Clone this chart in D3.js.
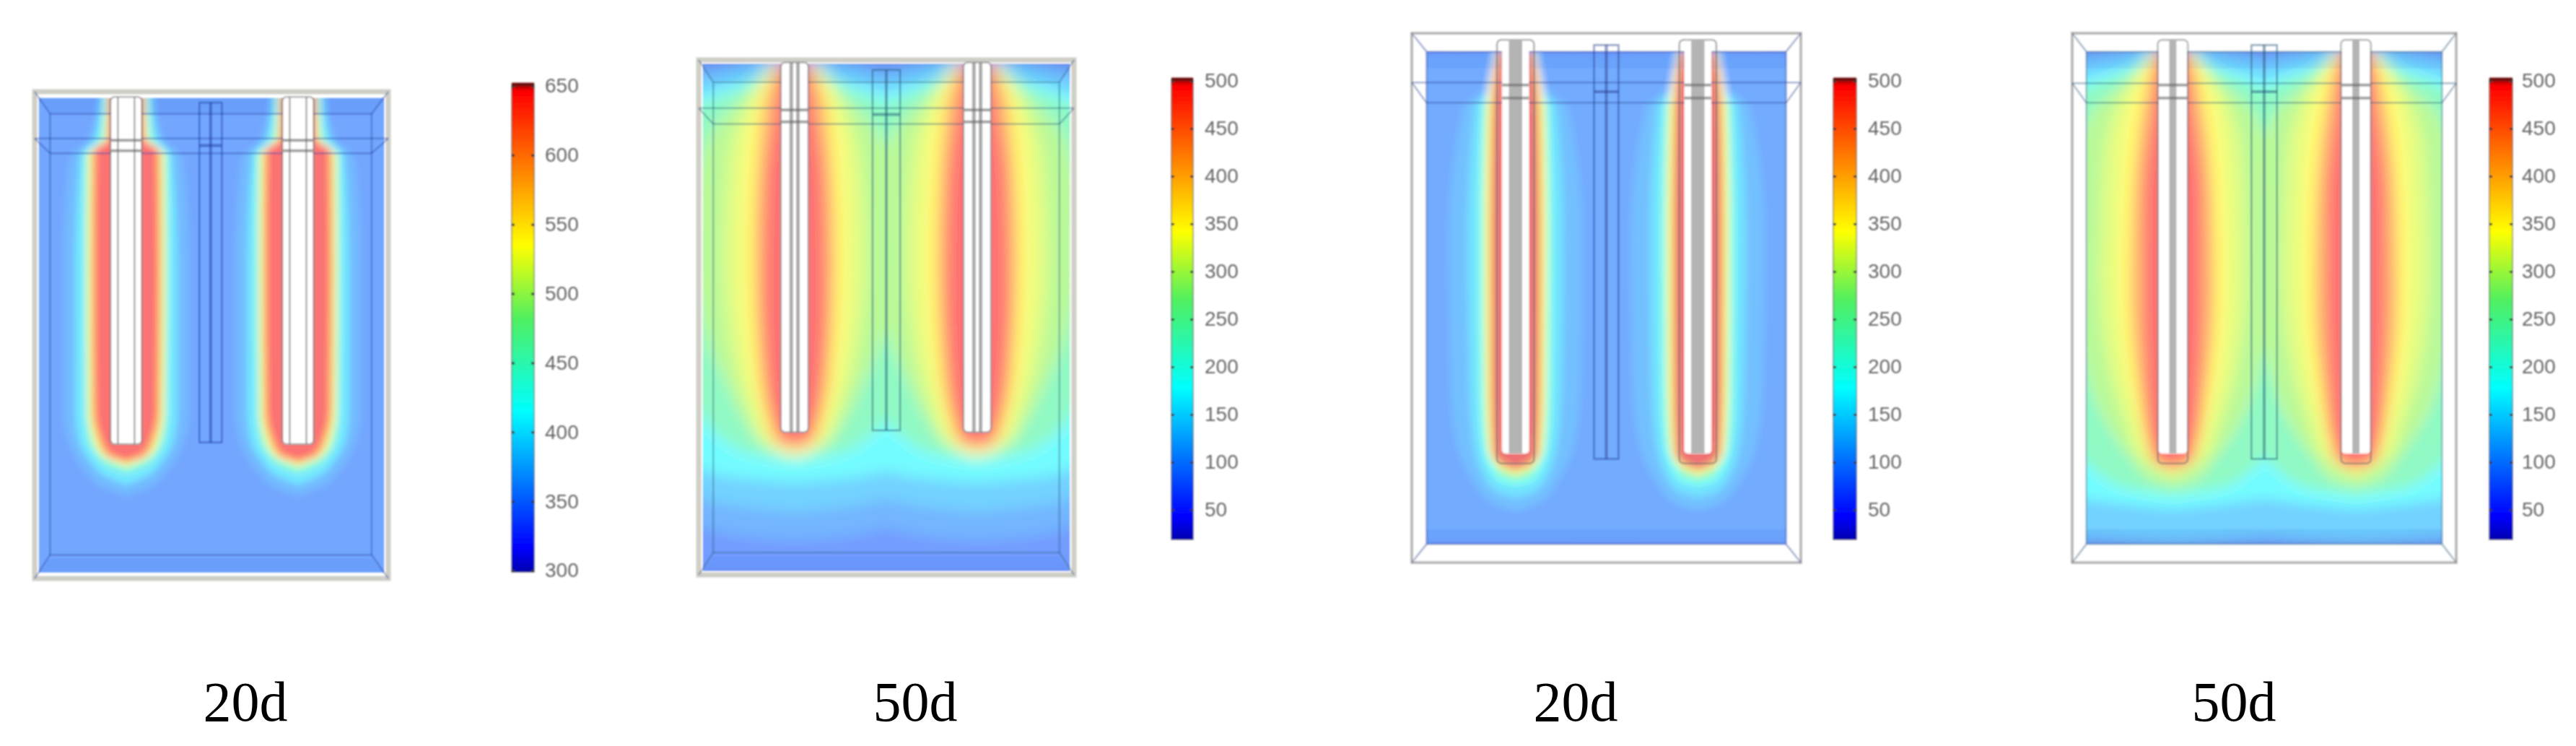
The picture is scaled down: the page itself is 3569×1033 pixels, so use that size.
<!DOCTYPE html>
<html>
<head>
<meta charset="utf-8">
<script src="https://cdn.jsdelivr.net/npm/d3@7"></script>
<style>
  html, body { margin: 0; background: #fff; }
  svg { display: block; }
  .caption { font-family: "Liberation Serif", serif; font-size: 78px; fill: #000; text-anchor: middle; }
  .bar-axis text { font-family: "Liberation Sans", sans-serif; font-size: 28px; fill: #666; }
</style>
</head>
<body>
<svg id="chart" width="3569" height="1033"></svg>
<script>
const captions = ['20d', '50d', '20d', '50d'];
const ticksA = [300, 350, 400, 450, 500, 550, 600, 650];
const ticksB = [50, 100, 150, 200, 250, 300, 350, 400, 450, 500];

// rainbow colormap, stops
const barStops = [0, 0.05, 0.33, 0.52, 0.67, 0.985, 1];
const barColors = ['#0000b0', '#0000ff', '#00ffff', '#50f060', '#ffff00', '#ff0000', '#a00000'];

// temperature isotherms: t, then [depth, half width from the heater axis]
const isotherms1 = [
  { t: 368, pts: [[100, 65], [230, 90], [290, 135], [600, 150], [1000, 150], [1100, 135], [1180, 95], [1225, 50], [1245, 0]] },
  { t: 400, pts: [[100, 60], [230, 75], [280, 110], [600, 122], [1000, 122], [1080, 115], [1150, 85], [1190, 50], [1215, 0]] },
  { t: 450, pts: [[100, 52], [230, 65], [280, 100], [600, 102], [1000, 100], [1080, 94], [1130, 74], [1165, 42], [1182, 0]] },
  { t: 520, pts: [[100, 47], [230, 52], [280, 92], [600, 94], [1000, 92], [1080, 82], [1130, 60], [1165, 0]] },
  { t: 590, pts: [[100, 44], [230, 47], [270, 84], [600, 86], [1000, 84], [1080, 72], [1135, 48], [1155, 0]] },
  { t: 645, pts: [[100, 42], [230, 44], [260, 76], [600, 78], [1000, 76], [1075, 64], [1130, 38], [1148, 0]] }
];
const isotherms2 = [
  { t: 85, pts: [[65, 50], [84, 300], [1455, 300]] },
  { t: 108, pts: [[70, 60], [125, 300], [1290, 300], [1320, 230], [1350, 120], [1360, 0]] },
  { t: 135, pts: [[72, 70], [160, 300], [1190, 300], [1240, 235], [1270, 130], [1285, 0]] },
  { t: 175, pts: [[75, 60], [110, 100], [200, 300], [1100, 300], [1160, 240], [1190, 150], [1205, 0]] },
  { t: 240, pts: [[75, 55], [120, 100], [240, 300], [900, 300], [1000, 240], [1080, 180], [1130, 100], [1150, 0]] },
  { t: 290, pts: [[75, 52], [140, 100], [260, 200], [400, 235], [600, 240], [800, 215], [950, 160], [1050, 115], [1110, 70], [1125, 0]] },
  { t: 320, pts: [[75, 50], [130, 85], [220, 130], [350, 160], [600, 170], [850, 150], [1000, 112], [1090, 72], [1135, 0]] },
  { t: 345, pts: [[75, 48], [120, 70], [200, 98], [300, 120], [600, 132], [850, 118], [1000, 90], [1085, 64], [1120, 36], [1130, 0]] },
  { t: 410, pts: [[75, 43], [130, 62], [200, 80], [600, 100], [900, 88], [1040, 64], [1100, 42], [1118, 0]] },
  { t: 492, pts: [[75, 40], [200, 56], [400, 78], [700, 84], [950, 72], [1060, 58], [1100, 36], [1112, 0]] }
];
const isotherms3 = [
  { t: 98, pts: [[100, 60], [108, 330], [1430, 330]] },
  { t: 118, pts: [[100, 65], [200, 85], [250, 140], [600, 180], [1000, 175], [1150, 160], [1250, 120], [1320, 60], [1340, 0]] },
  { t: 150, pts: [[100, 62], [200, 75], [250, 110], [600, 130], [1000, 125], [1150, 115], [1240, 90], [1290, 50], [1305, 0]] },
  { t: 190, pts: [[100, 58], [200, 65], [250, 92], [600, 104], [1000, 102], [1150, 94], [1230, 72], [1265, 40], [1275, 0]] },
  { t: 260, pts: [[100, 55], [200, 60], [250, 84], [600, 90], [1000, 88], [1150, 82], [1220, 58], [1248, 35], [1258, 0]] },
  { t: 340, pts: [[100, 52], [250, 76], [600, 82], [1000, 80], [1170, 72], [1218, 50], [1242, 0]] },
  { t: 420, pts: [[100, 50], [250, 67], [600, 72], [1000, 71], [1180, 65], [1222, 34], [1234, 0]] },
  { t: 495, pts: [[100, 48], [250, 61], [600, 66], [1000, 65], [1190, 58], [1218, 26], [1228, 0]] }
];
const isotherms4 = [
  { t: 85, pts: [[95, 60], [106, 320], [1430, 320]] },
  { t: 105, pts: [[97, 60], [130, 320], [1425, 320]] },
  { t: 135, pts: [[97, 70], [155, 320], [1380, 320], [1405, 250], [1425, 0]] },
  { t: 175, pts: [[98, 65], [130, 110], [205, 320], [1270, 320], [1300, 280], [1320, 150], [1335, 0]] },
  { t: 240, pts: [[100, 60], [140, 110], [245, 320], [950, 320], [1150, 280], [1230, 220], [1280, 130], [1300, 0]] },
  { t: 290, pts: [[100, 56], [160, 110], [270, 230], [420, 270], [700, 275], [950, 245], [1100, 190], [1200, 120], [1260, 60], [1275, 0]] },
  { t: 320, pts: [[100, 54], [150, 90], [230, 150], [400, 195], [700, 205], [950, 180], [1100, 135], [1200, 90], [1250, 0]] },
  { t: 345, pts: [[100, 52], [140, 75], [220, 114], [400, 148], [700, 158], [950, 138], [1100, 100], [1190, 68], [1242, 0]] },
  { t: 410, pts: [[100, 48], [150, 66], [240, 86], [500, 116], [750, 122], [1000, 102], [1150, 76], [1210, 56], [1232, 0]] },
  { t: 492, pts: [[100, 45], [240, 62], [500, 90], [750, 92], [1000, 82], [1170, 66], [1212, 46], [1226, 0]] }
];

// layout of each panel, in page pixels and in the units the readings above use
const layouts = [
  { iso: isotherms1, base: 354, blur: 4, ticks: ticksA, barDomain: [300, 650],
    px: [48, 538], py: [127, 801], ux: [85, 935], uy: [97, 1482], field: [95, 925, 115, 1465],
    box: [122, 895, 160, 272, 1415], iface: 230, frameW: 7, frameC: '#cfcfc8',
    axes: [305, 718], hw: 36, hwo: 38, top: 112, white: 1100, tip: 1100, stripe: 20, stripeW: 2.5, marks: [235, 265],
    rod: [508, 27, 128, 1095, 250], lineC: '#1c3c9c',
    bar: [709, 740], barY: [790, 119], barEnds: [792, 117], labelX: 755, cap: 340, tick0: 790 },
  { iso: isotherms2, base: 30, blur: 9, ticks: ticksB, barDomain: [20, 500],
    px: [968, 1488], py: [83, 796], ux: [120, 1020], uy: [65, 1455], field: [130, 1010, 75, 1445],
    box: [155, 985, 125, 238, 1395], iface: 195, frameW: 7, frameC: '#cfcfc8',
    axes: [350, 788], hw: 32, hwo: 33, top: 72, white: 1070, tip: 1070, stripe: 8, stripeW: 5, marks: [200, 232],
    rod: [570, 33, 92, 1065, 212], lineC: '#285878',
    bar: [1623, 1653], barY: [747, 112], barEnds: [747, 110], labelX: 1669, cap: 1268, tick0: 706 },
  { iso: isotherms3, base: 50, blur: 5, ticks: ticksB, barDomain: [20, 500],
    px: [1956, 2495], py: [46, 779], ux: [110, 1160], uy: [50, 1480], field: [150, 1120, 100, 1430],
    box: [150, 1120, 100, 238, 1430], iface: 183, frameW: 3.5, frameC: '#b4b4b4',
    axes: [390, 882], hw: 36, hwo: 50, top: 68, white: 1185, tip: 1212, stripe: 18, stripeW: 0, marks: [190, 225],
    rod: [635, 33, 82, 1200, 208], lineC: '#28408c',
    bar: [2540, 2572], barY: [747, 112], barEnds: [747, 110], labelX: 2588, cap: 2183, tick0: 706 },
  { iso: isotherms4, base: 30, blur: 8, ticks: ticksB, barDomain: [20, 500],
    px: [2871, 3403], py: [46, 779], ux: [145, 1225], uy: [50, 1480], field: [185, 1185, 100, 1430],
    box: [185, 1185, 100, 238, 1430], iface: 185, frameW: 3.5, frameC: '#b4b4b4',
    axes: [428, 943], hw: 40, hwo: 42, top: 68, white: 1185, tip: 1212, stripe: 10, stripeW: 0, marks: [190, 225],
    rod: [685, 36, 82, 1200, 208], lineC: '#285878',
    bar: [3449, 3481], barY: [747, 112], barEnds: [747, 110], labelX: 3494, cap: 3095, tick0: 706 }
];

const svg = d3.select('#chart');
const defs = svg.append('defs');

defs.append('filter').attr('id', 'soft')
  .attr('x', '-5%').attr('y', '-5%').attr('width', '110%').attr('height', '110%')
  .append('feGaussianBlur').attr('stdDeviation', 1.3);

function drawPanel(p, i) {
  const x = d3.scaleLinear().domain(p.ux).range(p.px);
  const y = d3.scaleLinear().domain(p.uy).range(p.py);
  const dx = u => x(u) - x(0);

  const [d0, d1] = p.barDomain;
  const color = d3.scaleLinear()
    .domain(barStops.map(s => d0 + s * (d1 - d0)))
    .range(barColors);

  const panel = svg.append('g').attr('class', 'panel panel_' + i).attr('filter', 'url(#soft)');

  defs.append('filter').attr('id', 'field_blur_' + i)
    .attr('x', '-10%').attr('y', '-10%').attr('width', '120%').attr('height', '120%')
    .append('feGaussianBlur').attr('stdDeviation', p.blur);
  defs.append('clipPath').attr('id', 'field_clip_' + i)
    .append('rect')
    .attr('x', x(p.field[0])).attr('y', y(p.field[2]))
    .attr('width', x(p.field[1]) - x(p.field[0])).attr('height', y(p.field[3]) - y(p.field[2]));

  // Temperature field, painted from the coldest isotherm to the hottest
  const field = panel.append('g').attr('clip-path', 'url(#field_clip_' + i + ')')
    .append('g').attr('opacity', 0.55).attr('filter', 'url(#field_blur_' + i + ')');

  field.append('rect')
    .attr('x', x(p.field[0]) - 30).attr('y', y(p.field[2]) - 30)
    .attr('width', x(p.field[1]) - x(p.field[0]) + 60).attr('height', y(p.field[3]) - y(p.field[2]) + 60)
    .attr('fill', color(p.base));

  const lobes = p.iso.flatMap(level => p.axes.map(ax => ({ t: level.t, pts: level.pts, ax })));
  field.selectAll('.isotherm')
    .data(lobes)
    .enter()
    .append('path')
    .attr('class', 'isotherm')
    .attr('fill', d => color(d.t))
    .attr('d', d =>
      d3.area()
        .curve(d3.curveMonotoneY)
        .y(q => y(q[0]))
        .x0(q => x(d.ax) - dx(q[1]))
        .x1(q => x(d.ax) + dx(q[1]))(d.pts)
    );

  // Box faces, slightly darker top and bottom
  const [bl, br, bt, b2, bb] = p.box;
  const [ul, ur] = p.ux;
  const [ut, ub] = p.uy;
  const face = d3.line().x(q => x(q[0])).y(q => y(q[1]));
  panel.selectAll('.face')
    .data([
      [[p.field[0], p.field[2]], [p.field[1], p.field[2]], [br, p.field[2] + 45], [bl, p.field[2] + 45]],
      [[p.field[0], p.field[3]], [p.field[1], p.field[3]], [br, p.field[3] - 40], [bl, p.field[3] - 40]]
    ])
    .enter()
    .append('path')
    .attr('class', 'face')
    .attr('d', d => face(d) + 'Z')
    .attr('fill', '#2848c8')
    .attr('opacity', 0.08);

  // Frame, inner box and the interface lines
  panel.append('rect')
    .attr('x', x(ul)).attr('y', y(ut))
    .attr('width', x(ur) - x(ul)).attr('height', y(ub) - y(ut))
    .attr('fill', 'none')
    .attr('stroke', p.frameC)
    .attr('stroke-width', p.frameW);

  const segments = [
    [[ul, ut], [bl, bt]], [[ur, ut], [br, bt]],
    [[ul, ub], [bl, bb]], [[ur, ub], [br, bb]],
    [[ul, p.iface], [ur, p.iface]],
    [[ul, p.iface], [bl, b2]], [[ur, p.iface], [br, b2]],
    [[bl, b2], [br, b2]],
    [[bl, bt], [br, bt]], [[bl, bb], [br, bb]],
    [[bl, bt], [bl, bb]], [[br, bt], [br, bb]]
  ];
  panel.selectAll('.box_line')
    .data(segments)
    .enter()
    .append('path')
    .attr('class', 'box_line')
    .attr('d', d => face(d))
    .attr('fill', 'none')
    .attr('stroke', p.lineC)
    .attr('stroke-opacity', 0.38)
    .attr('stroke-width', 2.5);

  // Heaters
  const heater = panel.selectAll('.heater').data(p.axes).enter().append('g').attr('class', 'heater');
  heater.append('rect')
    .attr('x', d => x(d) - dx(p.hw)).attr('y', y(p.top))
    .attr('width', dx(p.hw) * 2).attr('height', y(p.white) - y(p.top))
    .attr('rx', 5)
    .attr('fill', '#fff');
  heater.append('rect')
    .attr('x', d => x(d) - dx(p.hwo)).attr('y', y(p.top))
    .attr('width', dx(p.hwo) * 2).attr('height', y(p.tip) - y(p.top))
    .attr('rx', 6)
    .attr('fill', 'none').attr('stroke', '#666').attr('stroke-opacity', 0.5).attr('stroke-width', 2.5);
  heater.each(function(ax) {
    const current = d3.select(this);
    if (p.stripeW) {
      // a pair of thin lines down the rod
      [-1, 1].forEach(s => {
        current.append('line')
          .attr('x1', x(ax) + s * dx(p.stripe)).attr('x2', x(ax) + s * dx(p.stripe))
          .attr('y1', y(p.top)).attr('y2', y(p.white))
          .attr('stroke', '#888').attr('stroke-opacity', 0.7).attr('stroke-width', p.stripeW);
      });
    } else {
      current.append('rect')
        .attr('x', x(ax) - dx(p.stripe)).attr('y', y(p.top))
        .attr('width', dx(p.stripe) * 2).attr('height', y(p.white) - y(p.top))
        .attr('fill', '#b4b4b4');
    }
    p.marks.forEach(m => {
      current.append('line')
        .attr('x1', x(ax) - dx(p.hw)).attr('x2', x(ax) + dx(p.hw))
        .attr('y1', y(m)).attr('y2', y(m))
        .attr('stroke', '#666').attr('stroke-width', 4).attr('stroke-opacity', 0.6);
    });
  });

  // Monitoring rod between the heaters
  const [rx, rh, rt, rb, rm] = p.rod;
  const rod = panel.append('g').attr('class', 'rod')
    .attr('fill', 'none').attr('stroke', p.lineC).attr('stroke-opacity', 0.5).attr('stroke-width', 2.5);
  rod.append('rect')
    .attr('x', x(rx) - dx(rh)).attr('y', y(rt))
    .attr('width', dx(rh) * 2).attr('height', y(rb) - y(rt));
  rod.append('line').attr('x1', x(rx)).attr('x2', x(rx)).attr('y1', y(rt)).attr('y2', y(rb)).attr('stroke-width', 4);
  rod.append('line').attr('x1', x(rx) - dx(rh)).attr('x2', x(rx) + dx(rh)).attr('y1', y(rm)).attr('y2', y(rm)).attr('stroke-width', 4);

  // Colour bar
  const barScale = d3.scaleLinear()
    .domain([p.ticks[0], p.ticks[p.ticks.length - 1]])
    .range([p.tick0, p.barY[1]]);
  const gradId = 'bar_grad_' + i;
  const grad = defs.append('linearGradient').attr('id', gradId)
    .attr('x1', 0).attr('x2', 0).attr('y1', 1).attr('y2', 0);
  grad.selectAll('stop').data(barStops).enter().append('stop')
    .attr('offset', d => d)
    .attr('stop-color', (d, k) => barColors[k]);

  const barW = p.bar[1] - p.bar[0];
  panel.append('rect')
    .attr('x', p.bar[0]).attr('y', p.barEnds[1])
    .attr('width', barW).attr('height', p.barEnds[0] - p.barEnds[1])
    .attr('fill', 'url(#' + gradId + ')')
    .attr('stroke', '#555').attr('stroke-opacity', 0.5).attr('stroke-width', 2);
  panel.append('line')
    .attr('x1', p.bar[0]).attr('x2', p.bar[1])
    .attr('y1', p.barEnds[1]).attr('y2', p.barEnds[1])
    .attr('stroke', '#701010').attr('stroke-width', 5);

  const axisG = panel.append('g').attr('class', 'bar-axis')
    .attr('transform', 'translate(' + p.bar[1] + ',0)')
    .call(d3.axisRight(barScale).tickValues(p.ticks).tickSizeInner(0).tickSizeOuter(0).tickPadding(p.labelX - p.bar[1]));
  axisG.select('.domain').remove();
  axisG.selectAll('.tick line')
    .attr('x1', -barW)
    .attr('x2', 0)
    .attr('stroke', '#333')
    .attr('stroke-width', 3)
    .attr('stroke-dasharray', '4 ' + (barW - 8) + ' 4');

  svg.append('text')
    .attr('class', 'caption')
    .attr('x', p.cap)
    .attr('y', 998)
    .text(captions[i]);
}

layouts.forEach(drawPanel);
</script>
</body>
</html>
